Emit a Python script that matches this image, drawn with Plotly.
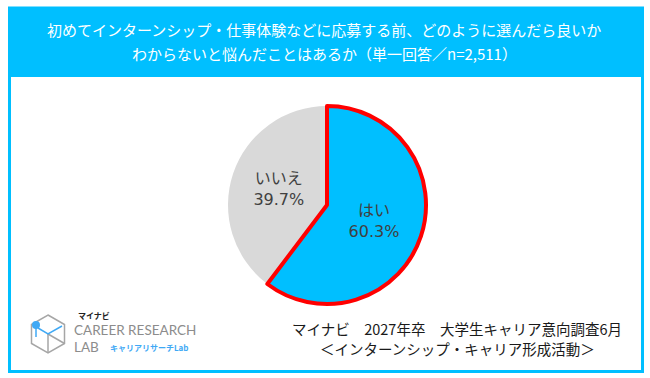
import plotly.graph_objects as go

# ---- data ----
labels = ["いいえ", "はい"]
values = [39.7, 60.3]
slice_colors = ["#D9D9D9", "#00BFFF"]
title_lines = [
    "初めてインターンシップ・仕事体験などに応募する前、どのように選んだら良いか",
    "わからないと悩んだことはあるか（単一回答／n=2,511）",
]
source_lines = [
    "マイナビ　2027年卒　大学生キャリア意向調査6月",
    "＜インターンシップ・キャリア形成活動＞",
]

W, H = 650, 378
def px(x):
    return x / W
def py(y):
    return 1 - y / H

CYAN = "#00BFFF"
JP = "Noto Sans CJK JP"

# start so that the first slice ends at 12 o'clock (いいえ on the left)
start_rot = -values[0] / sum(values) * 360

fig = go.Figure()
fig.add_trace(go.Pie(
    labels=labels,
    values=values,
    sort=False,
    direction="clockwise",
    rotation=start_rot,
    marker=dict(colors=slice_colors,
                line=dict(color=["rgba(0,0,0,0)", "#FF0000"], width=[0, 4])),
    texttemplate="%{label}<br>%{value:.1f}%",
    textposition="inside",
    insidetextorientation="horizontal",
    textfont=dict(size=16, color="#404040", family="DejaVu Sans, " + JP),
    hoverinfo="skip",
    showlegend=False,
    domain=dict(x=[px(228), px(426)], y=[py(304), py(106)]),
))

shapes = []
# header block
shapes.append(dict(type="rect", xref="paper", yref="paper",
                   x0=px(8), x1=px(644), y0=py(77), y1=py(7),
                   fillcolor=CYAN, line=dict(width=0), layer="below"))
# frame
shapes.append(dict(type="rect", xref="paper", yref="paper",
                   x0=px(9.5), x1=px(642.5), y0=py(371.5), y1=py(8),
                   fillcolor="rgba(0,0,0,0)", line=dict(color=CYAN, width=3)))

# logo icon (approximate)
def path(pts, close=False):
    s = "M " + " L ".join(f"{px(x)},{py(y)}" for x, y in pts)
    return s + (" Z" if close else "")

hexpts = [(48, 315), (64.5, 324.5), (64.5, 343.5), (48, 353), (31.5, 343.5), (31.5, 324.5)]
shapes.append(dict(type="path", xref="paper", yref="paper", path=path(hexpts, True),
                   line=dict(color="#A6A6A6", width=1.5)))
shapes.append(dict(type="path", xref="paper", yref="paper",
                   path=path([(48, 334), (48, 353)]), line=dict(color="#A6A6A6", width=1.5)))
shapes.append(dict(type="path", xref="paper", yref="paper",
                   path=path([(48, 334), (64.5, 343.5)]), line=dict(color="#A6A6A6", width=1.5)))
shapes.append(dict(type="path", xref="paper", yref="paper",
                   path=path([(38, 328), (48, 334), (62, 326)]), line=dict(color="#3FA9F5", width=1.5)))
shapes.append(dict(type="path", xref="paper", yref="paper",
                   path=path([(36, 325), (36, 337)]), line=dict(color="#3FA9F5", width=1.5)))
shapes.append(dict(type="circle", xref="paper", yref="paper",
                   x0=px(32), x1=px(40), y0=py(329), y1=py(321),
                   fillcolor="#3FA9F5", line=dict(width=0)))

annotations = []
for txt, y in zip(title_lines, [30, 53]):
    annotations.append(dict(text=txt, x=px(324), y=py(y), xref="paper", yref="paper",
                            xanchor="center", yanchor="middle", showarrow=False,
                            font=dict(family=JP, size=15, color="white")))
for txt, y in zip(source_lines, [328, 348]):
    annotations.append(dict(text=txt, x=px(457), y=py(y), xref="paper", yref="paper",
                            xanchor="center", yanchor="middle", showarrow=False,
                            font=dict(family=JP, size=14.5, color="#1a1a1a")))
# logo texts
annotations.append(dict(text="<b>マイナビ</b>", x=px(76), y=py(315), xref="paper", yref="paper",
                        xanchor="left", yanchor="middle", showarrow=False,
                        font=dict(family=JP, size=8, color="#222222")))
annotations.append(dict(text="CAREER RESEARCH", x=px(72), y=py(330), xref="paper", yref="paper",
                        xanchor="left", yanchor="middle", showarrow=False,
                        font=dict(family="Lato", size=13.5, color="#8C8C8C")))
annotations.append(dict(text="LAB", x=px(72), y=py(347), xref="paper", yref="paper",
                        xanchor="left", yanchor="middle", showarrow=False,
                        font=dict(family="Lato", size=13.5, color="#8C8C8C")))
annotations.append(dict(text="<b>キャリアリサーチLab</b>", x=px(108), y=py(347), xref="paper", yref="paper",
                        xanchor="left", yanchor="middle", showarrow=False,
                        font=dict(family=JP, size=8, color="#3FA9F5")))

fig.update_layout(
    width=W, height=H,
    margin=dict(l=0, r=0, t=0, b=0),
    paper_bgcolor="white", plot_bgcolor="white",
    shapes=shapes, annotations=annotations,
)

fig.write_html("out.html", config={"displayModeBar": False},
               post_script="document.body.style.margin='0';")
